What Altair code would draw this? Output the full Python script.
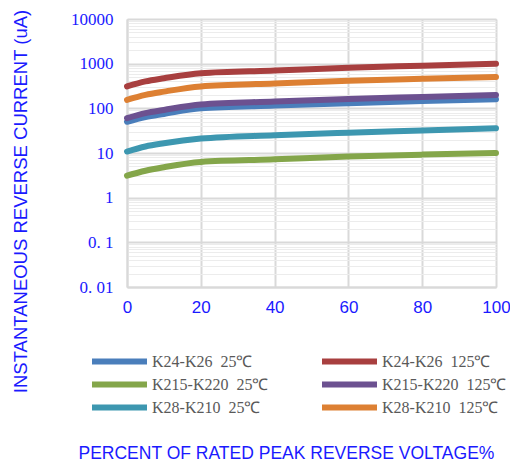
import altair as alt
import pandas as pd

# ---- data ----
x_pct = [0, 5, 10, 20, 40, 60, 80, 100]
series_names = [
    "K24-K26\u200225\u2103", "K24-K26\u2002125\u2103",
    "K215-K220\u200225\u2103", "K215-K220\u2002125\u2103",
    "K28-K210\u200225\u2103", "K28-K210\u2002125\u2103",
]
k24_25 = [50, 64, 75, 100, 115, 130, 145, 160]
k24_125 = [310, 400, 470, 610, 700, 810, 900, 1000]
k215_25 = [3.1, 4.0, 4.8, 6.3, 7.2, 8.3, 9.2, 10]
k215_125 = [60, 78, 92, 122, 142, 162, 180, 200]
k28_25 = [10.8, 14, 16.5, 21, 25, 28.5, 32, 36]
k28_125 = [155, 200, 237, 310, 360, 415, 460, 505]
series_values = [k24_25, k24_125, k215_25, k215_125, k28_25, k28_125]
colors = ["#4a7ebb", "#a83f3f", "#84a64a", "#6c5190", "#3d97b0", "#dd8033"]

y_major = [0.01, 0.1, 1, 10, 100, 1000, 10000]
y_minor = [m * d for d in [0.01, 0.1, 1, 10, 100, 1000] for m in range(2, 10)]
x_ticks = [0, 20, 40, 60, 80, 100]

rows = []
for name, vals in zip(series_names, series_values):
    for xv, yv in zip(x_pct, vals):
        rows.append({"x": xv, "y": yv, "series": name})
df = pd.DataFrame(rows)

blue = "#1a1aff"
xscale = alt.Scale(domain=[0, 100], nice=False, zero=False)
yscale = alt.Scale(type="log", domain=[0.01, 10000], nice=False)

x_axis = alt.Axis(
    values=x_ticks, grid=True, gridColor="#d9d9d9", gridWidth=2,
    domainColor="#d9d9d9", domainWidth=2, ticks=False, labelFlush=False,
    labelFont="Liberation Sans", labelFontSize=17, labelColor=blue, labelPadding=12,
    title="PERCENT OF RATED PEAK REVERSE VOLTAGE%",
    titleFont="Liberation Sans", titleFontSize=17.5, titleFontWeight="normal",
    titleColor=blue, titleAlign="left", titleBaseline="alphabetic",
    titleX=-49, titleY=171)

minor = alt.Chart(df).mark_line(opacity=0).encode(
    x=alt.X("x:Q", scale=xscale, axis=x_axis),
    y=alt.Y("y:Q", scale=yscale, axis=alt.Axis(
        orient="left", values=y_minor, grid=True, gridColor="#ececec",
        gridWidth=1.2, labels=False, ticks=False, domain=False, title=None)),
)

main = alt.Chart(df).mark_line(strokeWidth=6, interpolate="monotone", strokeCap="round").encode(
    x=alt.X("x:Q", scale=xscale, axis=x_axis),
    y=alt.Y("y:Q", scale=yscale, axis=alt.Axis(
        orient="left", values=y_major, grid=True, gridColor="#d9d9d9", gridWidth=2,
        domainColor="#d9d9d9", domainWidth=2, ticks=False,
        labelExpr="datum.value >= 1 ? format(datum.value, 'd') : (datum.value > 0.05 ? '0. 1' : '0. 01')",
        labelFont="Liberation Serif", labelFontSize=17, labelColor=blue, labelPadding=14,
        title="INSTANTANEOUS REVERSE CURRENT (uA)",
        titleFont="Liberation Sans", titleFontSize=18.5, titleFontWeight="normal",
        titleColor=blue, titleAngle=-90, titleAlign="center", titleBaseline="middle",
        titleX=-107, titleY=182)),
    color=alt.Color("series:N", sort=series_names,
                    scale=alt.Scale(domain=series_names, range=colors),
                    legend=alt.Legend(
                        title=None, orient="none", legendX=-38, legendY=331,
                        direction="horizontal", columns=2, columnPadding=50,
                        rowPadding=0, clipHeight=23,
                        symbolType="stroke", symbolSize=3025, symbolStrokeWidth=6,
                        symbolOffset=0, labelOffset=2, padding=0,
                        labelFont="Liberation Serif", labelFontSize=16,
                        labelColor="#595959", labelLimit=300)),
)

chart = alt.layer(minor, main).resolve_axis(y="independent").properties(
    width=369, height=268,
    autosize=alt.AutoSizeParams(type="none"),
    padding={"left": 119, "top": 11, "right": 14, "bottom": 177},
).configure_view(stroke="#d9d9d9", strokeWidth=2).configure(background="white")

chart.save("out.html", embed_options={"renderer": "svg", "actions": False})
